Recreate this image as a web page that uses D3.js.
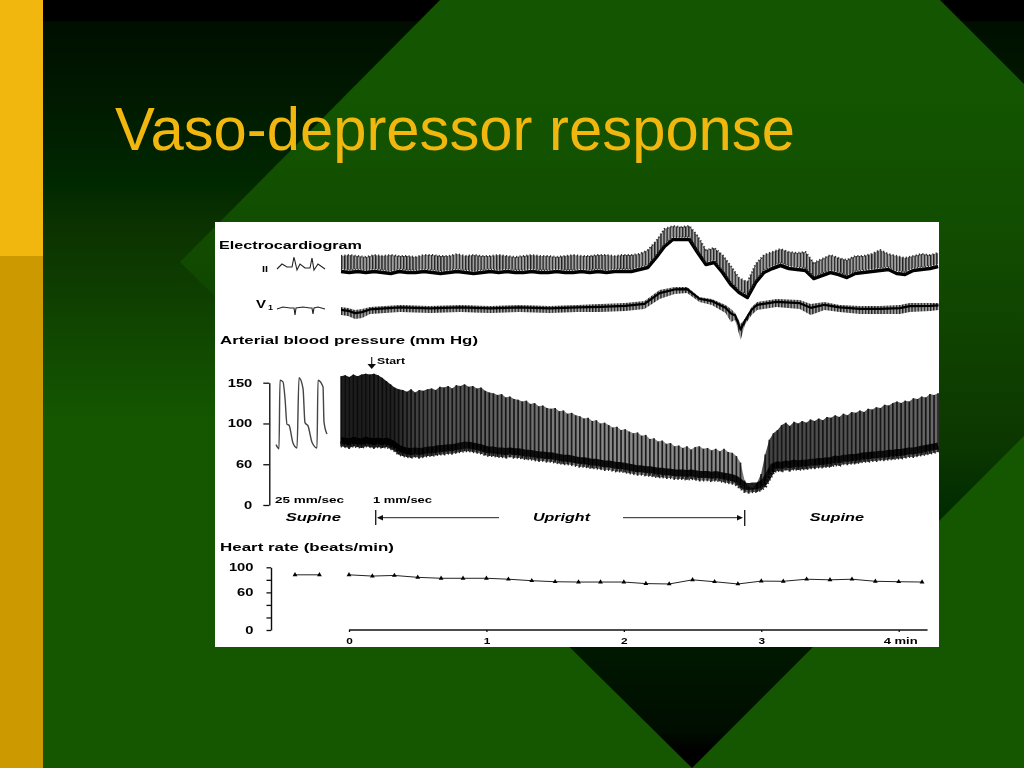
<!DOCTYPE html>
<html><head><meta charset="utf-8">
<script src="https://cdn.jsdelivr.net/npm/d3@7"></script>
<style>
html,body{margin:0;padding:0;background:#135500;overflow:hidden}
svg{display:block}
text{font-family:"Liberation Sans",Arial,sans-serif}
</style></head><body>
<svg id="c" width="1024" height="768"></svg>
<script>
// ---------- data ----------
const titleText = "Vaso-depressor response";
// arterial pressure, mm Hg, one envelope reading per sample from -0.06 to 4.29 min
const systolic = [158,159,157,160,158,160,161,160,161,159,156,152,148,144,142,141,139,142,138,141,140,
142,143,141,145,144,146,143,147,146,148,145,146,143,144,140,138,137,135,136,132,133,130,129,
127,128,124,125,121,122,119,118,119,115,116,112,113,110,109,106,107,103,104,100,101,98,
95,96,92,93,90,88,89,85,86,81,82,78,79,75,76,72,73,70,72,68,71,72,69,70,67,69,66,69,65,64,60,
52,30,22,21,27,38,62,80,88,92,98,101,97,102,100,103,101,105,103,106,104,108,107,
110,108,112,110,114,113,116,114,118,117,120,119,123,122,125,127,125,128,127,131,130,133,132,136,135,137];
const diastolic = [72,71,70,72,71,70,72,71,70,71,70,71,69,66,62,60,59,58,59,58,59,
60,60,61,62,62,63,63,64,65,66,66,65,64,63,61,60,60,59,59,58,59,58,58,
57,56,56,55,54,54,53,53,52,51,50,50,49,48,47,47,46,45,45,44,43,43,
42,41,41,40,39,38,37,37,36,36,35,34,34,33,33,32,32,32,31,32,31,30,30,30,29,30,29,28,27,26,24,
20,16,15,16,16,18,22,31,40,42,41,43,42,44,43,44,44,45,45,46,46,47,47,
49,48,50,50,51,51,52,53,53,54,54,55,55,56,56,57,57,58,59,59,60,61,62,63,64,65];
// 25 mm/sec inset pressure trace
const insetBpTime = [1,4,5,8,10,12,14,18,22,24,28,30,33,37,42,43,48,49,52];
const insetBpValue = [74,69,153,151,131,99,98,76,70,156,143,101,97,77,70,153,145,102,87];
// lead II band, arbitrary units
const leadIIUpper = [44,45,44,43,45,44,45,44,44,43,45,45,44,44,46,44,45,44,44,45,44,43,44,45,44,44,43,44,45,44,44,45,45,44,45,45,46,
50,59,71,74,73,74,64,50,52,45,34,22,18,36,45,48,51,48,47,48,37,41,45,42,40,44,44,46,50,46,44,42,44,46,45,47];
const leadIILower = [31,30,31,30,31,30,29,31,30,30,31,30,29,30,31,30,29,30,31,30,31,30,30,31,30,30,31,30,30,31,30,31,30,31,31,31,33,
35,45,56,63,63,63,50,38,40,30,18,10,5,20,30,34,37,34,33,32,24,27,30,28,25,29,30,31,32,33,29,28,32,33,34,36];
// lead V1 band
const leadV1Time = [-0.058,-0.007,0.044,0.095,0.153,0.262,0.371,0.59,0.81,1.03,1.24,1.46,1.66,1.83,2.01,2.15,2.26,2.37,2.46,2.55,2.64,2.74,2.78,2.81,2.85,2.88,2.93,2.97,3.11,3.28,3.36,3.46,3.57,3.72,3.86,4.01,4.08,4.23,4.29];
const leadV1Upper = [53,52,50,51,53,54,55,54,55,54,55,54,55,56,57,59,70,73,73,63,61,55,51,47,36,41,53,58,61,60,56,58,55,54,54,55,57,57,57];
const leadV1Lower = [45,44,41,42,46,47,48,47,48,47,48,47,48,48,49,51,61,66,67,58,55,47,38,40,20,35,45,50,53,51,45,50,48,46,46,46,48,49,50];
// small calibration complexes
const insetIITime = [2,7,12,17,19,22,25,30,35,37,39,43,50];
const insetIIValue = [31,36,33,33,43,30,36,32,32,42,30,36,31];
const insetV1Time = [2,8,15,19,20,21,28,35,37,38,39,43,50];
const insetV1Value = [51,53,52,52,45,52,53,52,52,46,52,53,51];
// heart rate, beats/min
const hrPreTime = [-0.393,-0.215];
const hrPreValue = [88,88];
const hrTime = [0,0.17,0.33,0.5,0.67,0.83,1,1.16,1.33,1.5,1.67,1.83,2,2.16,2.33,2.5,2.66,2.83,3,3.16,3.33,3.5,3.66,3.83,4,4.17];
const hrValue = [88,86,87,84,82.5,82.5,82.5,81,78.6,77,76.5,76.5,76.5,74,73.4,80,77,73.4,78,77.7,81,80,81,77.7,77,76.5];
// axes
const minuteTicks = [0,1,2,3,4];
const bpTicks = [0,50,100,150];
const bpTickLabels = ["0","60","100","150"];
const hrTicks = [0,20,40,60,80,100];
const hrTickLabels = {0:"0",60:"60",100:"100"};

// ---------- scales ----------
const x = d3.scaleLinear().domain([0,4]).range([349,898.7]);
const yBP = d3.scaleLinear().domain([0,150]).range([505,382.7]);
const yHR = d3.scaleLinear().domain([0,100]).range([630,567.3]);
const yII = d3.scaleLinear().domain([0,100]).range([300,200]);
const yV1 = d3.scaleLinear().domain([0,100]).range([360,260]);
const xInset = d3.scaleLinear().domain([0,53]).range([275,328]);
const bpIndex = d3.scaleLinear().domain([0,systolic.length-1]).range([-0.058,4.287]);
const iiIndex = d3.scaleLinear().domain([0,leadIIUpper.length-1]).range([-0.058,4.287]);

const svg = d3.select("#c");
const defs = svg.append("defs");

function grad(id, stops){
  const g = defs.append("linearGradient").attr("id",id).attr("gradientUnits","userSpaceOnUse")
    .attr("x1",0).attr("x2",0).attr("y1",0).attr("y2",768);
  stops.forEach(s=>g.append("stop").attr("offset",s[0]/768).attr("stop-color",s[1]));
}
grad("topG",[[0,"#000"],[20,"#000"],[22,"#000f00"],[100,"#001a00"],[180,"#002800"],[225,"#0b3200"],[300,"#0f4000"],[420,"#145700"]]);
grad("botG",[[0,"#135500"],[90,"#135500"],[200,"#124f00"],[300,"#104600"],[440,"#0c3800"],[510,"#012c00"],[650,"#001800"],[730,"#000e00"],[752,"#000"],[768,"#000"]]);
const bpG = defs.append("linearGradient").attr("id","bpG").attr("gradientUnits","userSpaceOnUse")
  .attr("x1",341).attr("x2",938).attr("y1",0).attr("y2",0);
[[341,"#1c1c1c"],[392,"#222"],[425,"#4a4a4a"],[500,"#666"],[600,"#8a8a8a"],[735,"#8a8a8a"],[770,"#444"],[938,"#6a6a6a"]]
  .forEach(s=>bpG.append("stop").attr("offset",(s[0]-341)/597).attr("stop-color",s[1]));
const pat = defs.append("pattern").attr("id","hatch").attr("patternUnits","userSpaceOnUse").attr("width",3.1).attr("height",10);
pat.append("rect").attr("width",3.1).attr("height",10).attr("fill","#a0a0a0");
pat.append("rect").attr("width",1.3).attr("height",10).attr("fill","#222");
const blur = defs.append("filter").attr("id","soft").attr("x","-2%").attr("y","-2%").attr("width","104%").attr("height","104%");
blur.append("feGaussianBlur").attr("stdDeviation",0.6);

// ---------- slide background ----------
const poly = (pts,fill)=>svg.append("polygon").attr("points",pts.map(p=>p.join(",")).join(" ")).attr("fill",fill);
svg.append("rect").attr("width",1024).attr("height",768).attr("fill","#145700");
poly([[0,0],[1024,0],[1024,420],[0,420]],"url(#topG)");
poly([[440,0],[940,0],[1024,84],[1024,436],[692,768],[180,262]],"url(#botG)");
svg.append("rect").attr("width",43).attr("height",256).attr("fill","#F2B70F");
svg.append("rect").attr("y",256).attr("width",43).attr("height",512).attr("fill","#CC9900");
svg.append("text").attr("x",115).attr("y",150).attr("font-size",61).attr("fill","#F2B70F")
  .attr("textLength",680).attr("lengthAdjust","spacingAndGlyphs").text(titleText);

// ---------- white figure ----------
svg.append("rect").attr("x",215).attr("y",222).attr("width",724).attr("height",425).attr("fill","#fff");
const fig = svg.append("g").attr("filter","url(#soft)");

function label(t,x0,x1,base,size,opt={}){
  return fig.append("text").attr("x",x0).attr("y",base).attr("font-size",size)
    .attr("font-weight",opt.weight||"bold").attr("font-style",opt.italic?"italic":"normal")
    .attr("fill","#000").attr("textLength",x1-x0).attr("lengthAdjust","spacingAndGlyphs").text(t);
}
label("Electrocardiogram",219,362,248.7,11.5);
label("II",262,268,272,9);
label("V",256,266,308,11);
label("1",268,273,310,7);
label("Arterial blood pressure (mm Hg)",220,478,343.7,11.5);
label("Start",377,405,363.5,8.5);
label("25 mm/sec",275,344,503.3,8.5);
label("1 mm/sec",373,432,503.3,8.5);
label("Supine",285.7,341,520.7,11.5,{italic:true});
label("Upright",533,590,521,11.5,{italic:true});
label("Supine",809.7,864,520.7,11.5,{italic:true});
label("Heart rate (beats/min)",220,394,551,11.5);

// ---------- ECG ----------
const iiT = (d,i)=>x(iiIndex(i));
const bandII = d3.area().x((d,i)=>iiT(d,i)).y0((d,i)=>yII(leadIILower[i])).y1((d,i)=>yII(d));
fig.append("path").attr("d",bandII(leadIIUpper)).attr("fill","url(#hatch)");
fig.append("path").attr("d",d3.line().x((d,i)=>iiT(d,i)).y(d=>yII(d))(leadIIUpper))
  .attr("fill","none").attr("stroke","#333").attr("stroke-width",2).attr("stroke-dasharray","1.2 2.2");
fig.append("path").attr("d",d3.line().x((d,i)=>iiT(d,i)).y(d=>yII(d)+2.5)(leadIILower))
  .attr("fill","none").attr("stroke","#000").attr("stroke-width",3.5).attr("stroke-linejoin","round");
fig.append("path").attr("d",d3.line().x((d,i)=>iiT(d,i)).y(d=>yII(d)+0.5)(leadIILower))
  .attr("fill","none").attr("stroke","#222").attr("stroke-width",2).attr("stroke-dasharray","1 1.8");
const bandV1 = d3.area().x((d,i)=>x(leadV1Time[i])).y0((d,i)=>yV1(leadV1Lower[i])).y1(d=>yV1(d));
fig.append("path").attr("d",bandV1(leadV1Upper)).attr("fill","url(#hatch)");
fig.append("path").attr("d",d3.line().x((d,i)=>x(leadV1Time[i])).y((d,i)=>(yV1(d)*0.65+yV1(leadV1Lower[i])*0.35))(leadV1Upper))
  .attr("fill","none").attr("stroke","#000").attr("stroke-width",2.2).attr("stroke-linejoin","round");
const thin = (tt,vv,sc)=>fig.append("path").attr("d",d3.line().x((d,i)=>xInset(tt[i])).y(d=>sc(d))(vv))
  .attr("fill","none").attr("stroke","#222").attr("stroke-width",1.1);
thin(insetIITime,insetIIValue,yII);
thin(insetV1Time,insetV1Value,yV1);

// ---------- pressure ----------
fig.append("path").attr("d",d3.area().x((d,i)=>x(bpIndex(i))).y0((d,i)=>yBP(diastolic[i])).y1(d=>yBP(d))(systolic))
  .attr("fill","url(#bpG)");
fig.selectAll("line.beat").data(systolic).join("line").attr("class","beat")
  .attr("x1",(d,i)=>x(bpIndex(i))).attr("x2",(d,i)=>x(bpIndex(i)))
  .attr("y1",d=>yBP(d)).attr("y2",(d,i)=>yBP(diastolic[i]))
  .attr("stroke","#0c0c0c").attr("stroke-width",1.7).attr("stroke-opacity",.85);
fig.append("path").attr("d",d3.line().x((d,i)=>x(bpIndex(i))).y(d=>yBP(d)-6)(diastolic))
  .attr("fill","none").attr("stroke","#000").attr("stroke-width",7).attr("stroke-opacity",.88).attr("stroke-linejoin","round");
fig.append("path").attr("d",d3.line().x((d,i)=>x(bpIndex(i))).y(d=>yBP(d)-1)(diastolic))
  .attr("fill","none").attr("stroke","#222").attr("stroke-width",4).attr("stroke-dasharray","1.3 2.4");
fig.append("path").attr("d",d3.line().curve(d3.curveMonotoneX).x((d,i)=>xInset(insetBpTime[i])).y(d=>yBP(d))(insetBpValue))
  .attr("fill","none").attr("stroke","#444").attr("stroke-width",1.4);

function styleAxis(g,fmtSize,digitWidth){
  g.selectAll("path.domain").attr("stroke","#111").attr("stroke-width",1.4);
  g.selectAll(".tick line").attr("stroke","#111").attr("stroke-width",1.3);
  g.selectAll(".tick text").attr("fill","#000").attr("font-weight","bold").attr("font-size",fmtSize)
    .each(function(){
      const n=this.textContent.length;
      if(n) d3.select(this).attr("textLength",n*digitWidth).attr("lengthAdjust","spacingAndGlyphs");
    });
}
const bpAxis = fig.append("g").attr("transform","translate(269.3,0)")
  .call(d3.axisLeft(yBP).tickValues(bpTicks).tickSize(6).tickSizeOuter(0).tickPadding(11)
    .tickFormat(d=>bpTickLabels[bpTicks.indexOf(d)]));
styleAxis(bpAxis,11,8.2);
const hrAxis = fig.append("g").attr("transform","translate(271,0)")
  .call(d3.axisLeft(yHR).tickValues(hrTicks).tickSize(4.5).tickSizeOuter(0).tickPadding(13)
    .tickFormat(d=>hrTickLabels[d]||""));
styleAxis(hrAxis,11,8.2);
const minAxis = fig.append("g").attr("transform","translate(0,630)")
  .call(d3.axisBottom(x).tickValues(minuteTicks).tickSize(2).tickSizeOuter(0).tickPadding(6)
    .tickFormat(d=>d===4?"":String(d)));
minAxis.select("path.domain").attr("d","M"+x(0)+",0H"+x(4.21));
styleAxis(minAxis,9,6.6);
fig.append("text").attr("x",883.7).attr("y",644).attr("font-weight","bold")
  .attr("font-size",9).attr("fill","#000").attr("textLength",34).attr("lengthAdjust","spacingAndGlyphs").text("4 min");

// ---------- markers ----------
const seg=(x1,y1,x2,y2,w=1)=>fig.append("line").attr("x1",x1).attr("y1",y1).attr("x2",x2).attr("y2",y2).attr("stroke","#222").attr("stroke-width",w);
const tri=(pts)=>fig.append("polygon").attr("points",pts.map(p=>p.join(",")).join(" ")).attr("fill","#111");
seg(371.7,357,371.7,365,1.2); tri([[367.5,364],[376,364],[371.7,369]]);
seg(375.7,510,375.7,525,1.4); seg(378,517.7,499,517.7,1); tri([[377,517.7],[383,515],[383,520.4]]);
seg(744.7,510,744.7,526,1.4); seg(623,517.7,738,517.7,1); tri([[743,517.7],[737,515],[737,520.4]]);

// ---------- heart rate ----------
const hrLine = d3.line().x(d=>x(d[0])).y(d=>yHR(d[1]));
const sym = d3.symbol().type(d3.symbolTriangle).size(10);
[[hrPreTime,hrPreValue],[hrTime,hrValue]].forEach(([tt,vv])=>{
  const pts = tt.map((t,i)=>[t,vv[i]]);
  fig.append("path").attr("d",hrLine(pts)).attr("fill","none").attr("stroke","#222").attr("stroke-width",1);
  fig.selectAll(null).data(pts).join("path").attr("d",sym)
    .attr("transform",d=>`translate(${x(d[0])},${yHR(d[1])})`).attr("fill","#000");
});
</script>
</body></html>
